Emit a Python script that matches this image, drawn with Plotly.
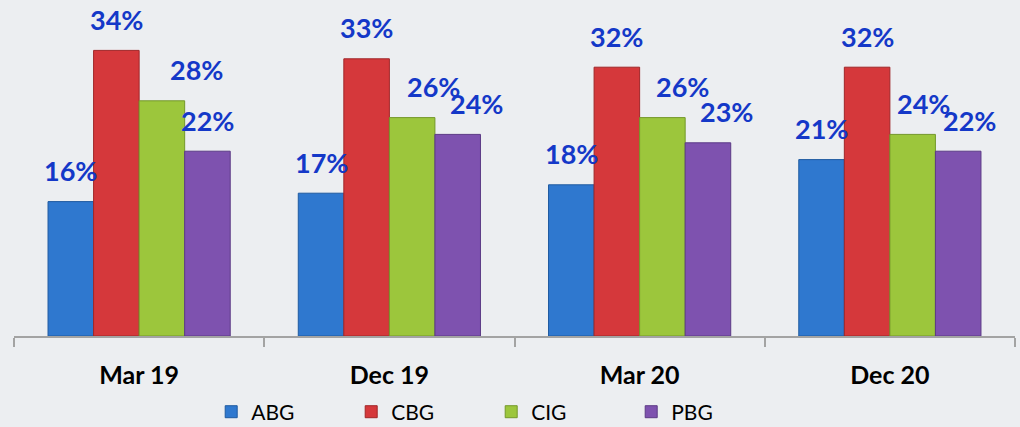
import plotly.graph_objects as go

periods = ['Mar 19', 'Dec 19', 'Mar 20', 'Dec 20']
abg = [16, 17, 18, 21]
cbg = [34, 33, 32, 32]
cig = [28, 26, 26, 24]
pbg = [22, 24, 23, 22]

series = [
    ('ABG', abg, '#2F78CF', '#1F5AA0'),
    ('CBG', cbg, '#D5383B', '#A02628'),
    ('CIG', cig, '#9CC63C', '#74982A'),
    ('PBG', pbg, '#7E52AF', '#5C3A86'),
]

# label nudges (px) so the labels sit roughly where excel put them
label_dx = {
    'ABG': [0, 0, 0, 0],
    'CBG': [0, 0, 0, 0],
    'CIG': [35, 21, 20, 11],
    'PBG': [0, 19, 19, 11],
}

W, H = 1020, 427
ml, mr, mt, mb = 14, 5, 0, 91
bargap = 0.272
bar_px = (W - ml - mr) / len(periods) * (1 - bargap) / len(series)
bg = '#ECEEF1'

fig = go.Figure()
annotations = []
for i, (name, vals, col, edge) in enumerate(series):
    fig.add_trace(go.Bar(
        x=periods, y=vals, name=name,
        marker=dict(color=col, line=dict(color=edge, width=1)),
    ))
    for j, v in enumerate(vals):
        annotations.append(dict(
            x=periods[j], y=v, xref='x', yref='y',
            text=f'<b>{v}%</b>', showarrow=False,
            xshift=(i - 1.5) * bar_px + label_dx[name][j], yshift=31,
            yanchor='middle',
            font=dict(family='Lato', size=27, color='#1438C8'),
        ))

fig.update_layout(
    width=W, height=H,
    margin=dict(l=ml, r=mr, t=mt, b=mb, autoexpand=False),
    barmode='group', bargap=bargap, bargroupgap=0,
    paper_bgcolor=bg, plot_bgcolor=bg,
    font=dict(family='Lato', color='black'),
    annotations=annotations,
    showlegend=True,
    legend=dict(
        orientation='h', x=0.197, xanchor='left',
        yref='container', y=0.035, yanchor='middle',
        font=dict(size=21), entrywidth=95, itemwidth=30,
        bgcolor='rgba(0,0,0,0)',
    ),
    xaxis=dict(
        showline=True, linecolor='#A3A3A3', linewidth=1.5,
        ticks='outside', tickson='boundaries', ticklen=9, tickcolor='#A3A3A3',
        tickwidth=1.5, ticklabelstandoff=16, automargin=False,
        tickfont=dict(size=25, family='Lato', color='black', weight='bold'),
        showgrid=False,
    ),
    yaxis=dict(range=[0, 40], visible=False, showgrid=False),
)

fig.write_html(
    'out.html',
    config={'displayModeBar': False},
    post_script=f"document.body.style.margin='0';document.body.style.background='{bg}';",
)
